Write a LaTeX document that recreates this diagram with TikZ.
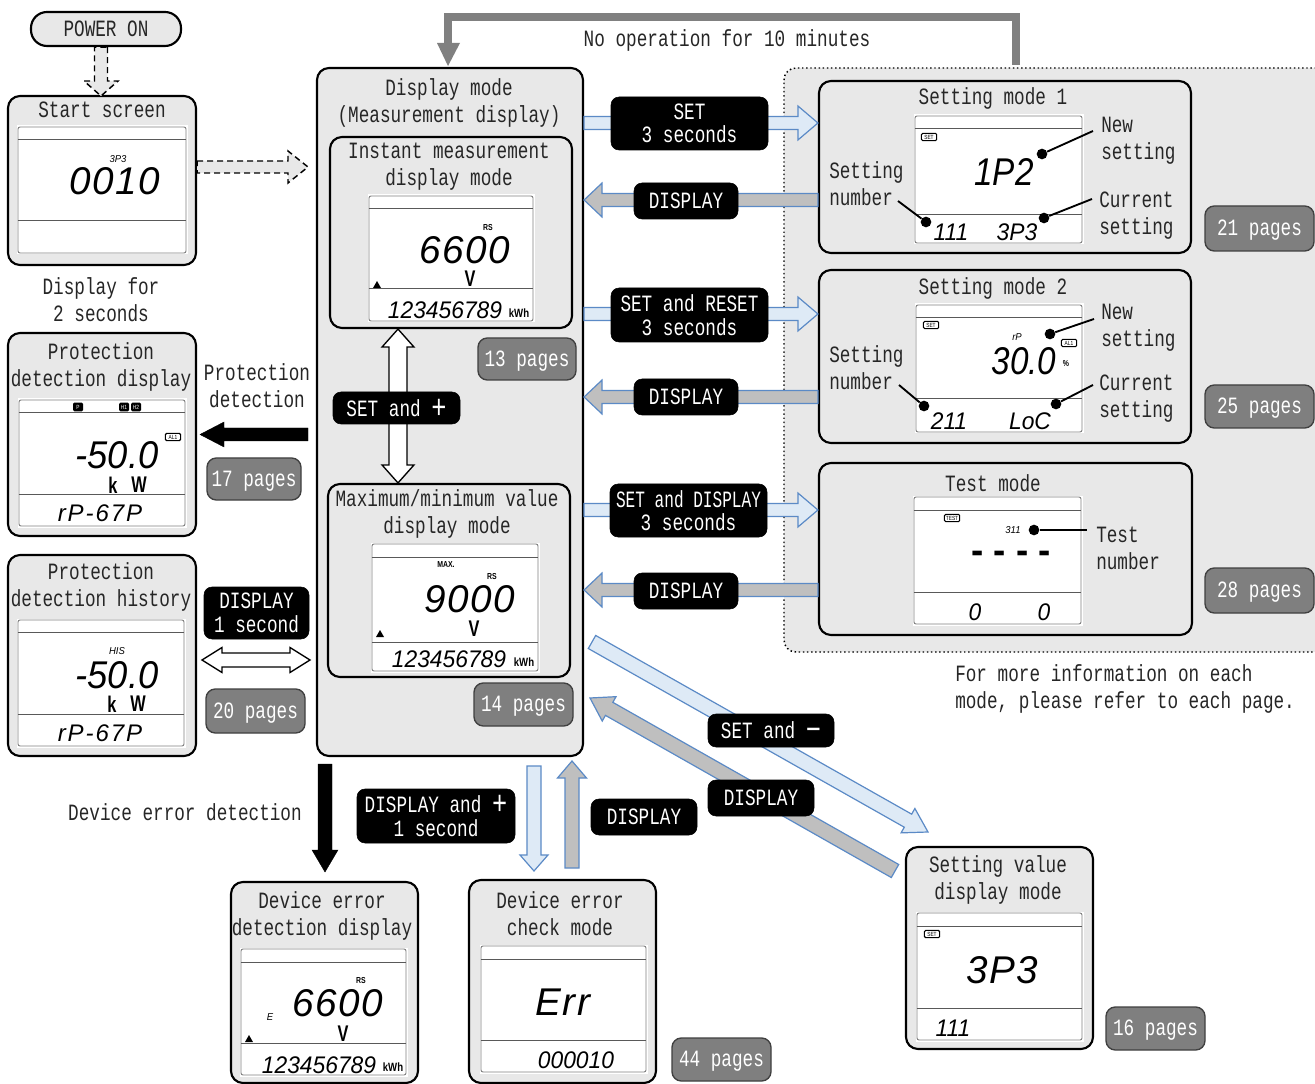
\documentclass[tikz,border=0pt]{standalone}
\usepackage{fontspec}
\usetikzlibrary{calc,fit}
\newfontfamily\mainf[FakeStretch=0.758]{Liberation Mono}
\newfontfamily\tightf[FakeStretch=0.69]{Liberation Mono}
\newfontfamily\lcdbigf[LetterSpace=4]{Liberation Sans}
\newfontfamily\lcdnarf[FakeStretch=0.86]{Liberation Sans}
\newfontfamily\lcdmidf[FakeStretch=0.94]{Liberation Sans}
\newfontfamily\lcdsmallf[FakeStretch=0.95]{Liberation Sans}
\newfontfamily\lcdwidef[LetterSpace=8]{Liberation Sans}
\newfontfamily\narrowf[FakeStretch=0.8]{Liberation Sans}
\newfontfamily\unitff[FakeStretch=0.72]{Liberation Sans}
\newcommand{\lcdB}{\lcdbigf\itshape\fontsize{29}{30}\selectfont}
\newcommand{\lcdN}{\lcdnarf\itshape\fontsize{29}{30}\selectfont}
\newcommand{\lcdM}{\lcdmidf\itshape\fontsize{29}{30}\selectfont}
\newcommand{\lcdS}{\lcdsmallf\itshape\fontsize{18}{20}\selectfont}
\newcommand{\lcdW}{\lcdwidef\itshape\fontsize{18}{20}\selectfont}
\newcommand{\lcdT}{\lcdsmallf\itshape\fontsize{7.5}{9}\selectfont}
\newcommand{\bigsign}[1]{\smash{\raisebox{-1.5pt}{\fontsize{25}{18}\selectfont #1}}}
\definecolor{panel}{HTML}{E8E8E8}
\definecolor{pagegray}{HTML}{7F7F7F}
\definecolor{blueedge}{HTML}{5B8AC6}
\definecolor{bluefill}{HTML}{DEEAF6}
\definecolor{grayfill}{HTML}{BFBFBF}
\definecolor{loopgray}{HTML}{808080}
\tikzset{
  base/.style={font=\mainf\fontsize{17.5}{20.25}\selectfont,text=black!85,inner sep=0pt,align=center},
  lab/.style={base,yshift=-1pt},
  labl/.style={base,align=left,anchor=west,yshift=-1pt},
  pan/.style={draw=black,fill=panel,line width=1.6pt,rounded corners=9pt,inner sep=0pt},
  pill/.style={draw=black,fill=panel,line width=1.6pt,rounded corners=12pt,inner sep=0pt},
  lcdbox/.style={draw=black!50,fill=white,line width=.7pt,rounded corners=1.5pt,inner sep=0pt},
  lcdrule/.style={draw=black!65,line width=.75pt},
  keybox/.style={fill=black,draw=black,rounded corners=6pt,inner sep=0pt},
  keytext/.style={base,text=white,font=\mainf\fontsize{17.5}{17.6}\selectfont},
  pagebox/.style={fill=pagegray,draw=black!75,line width=1pt,rounded corners=7pt,inner sep=0pt},
  pagetext/.style={base,text=white,yshift=-1.5pt},
  blueA/.style={draw=blueedge,fill=bluefill,line width=.9pt,miter limit=10},
  grayA/.style={draw=blueedge,fill=grayfill,line width=.9pt,miter limit=10},
  dashA/.style={draw=black,fill=panel,line width=1.1pt,dashed,dash pattern=on 4.5pt off 3pt},
  whiteA/.style={draw=black,fill=white,line width=1pt},
  blackA/.style={draw=black,fill=black,line width=.3pt},
  dotn/.style={circle,fill=black,inner sep=0pt,minimum size=8pt},
  leader/.style={draw=black,line width=1.4pt},
  lb/.style={inner sep=0pt,text=black},
  lcdB/.style={lb,font=\lcdB},
  lcdN/.style={lb,font=\lcdN},
  lcdM/.style={lb,font=\lcdM},
  lcdS/.style={lb,font=\lcdS},
  lcdW/.style={lb,font=\lcdW},
  lcdT/.style={lb,font=\lcdT},
  unitf/.style={lb,font=\unitff\bfseries\fontsize{17}{17}\selectfont},
  smallb/.style={lb,font=\narrowf\bfseries\fontsize{6.5}{7}\selectfont},
  kwhf/.style={lb,font=\narrowf\bfseries\fontsize{9}{10}\selectfont},
  iconw/.style={draw=black,fill=white,line width=.8pt,rounded corners=1pt,inner sep=.8pt,text=black,font=\narrowf\fontsize{4.5}{5}\selectfont,minimum width=11.5pt,minimum height=5.5pt},
  iconb/.style={fill=black,rounded corners=1pt,inner sep=.8pt,text=white,font=\narrowf\fontsize{4.5}{5}\selectfont,minimum width=7.5pt,minimum height=6.5pt},
  tri/.style={fill=black}
}
% block arrow from #1 to #2: style #3, half shaft #4 px, half head #5 px, head length #6 px
\newcommand{\blockarrow}[6]{%
  \coordinate (hb) at ($(#2)!#6*0.75pt!(#1)$);
  \draw[#3] ($(#1)!#4*0.75pt!90:(#2)$) -- ($(hb)!#4*0.75pt!90:(#2)$) -- ($(hb)!#5*0.75pt!90:(#2)$) -- (#2)
    -- ($(hb)!#5*0.75pt!-90:(#2)$) -- ($(hb)!#4*0.75pt!-90:(#2)$) -- ($(#1)!#4*0.75pt!-90:(#2)$) -- cycle;}
\newcommand{\dblarrow}[6]{%
  \coordinate (hb) at ($(#2)!#6*0.75pt!(#1)$);
  \coordinate (ha) at ($(#1)!#6*0.75pt!(#2)$);
  \draw[#3] (#1) -- ($(ha)!#5*0.75pt!-90:(#2)$) -- ($(ha)!#4*0.75pt!-90:(#2)$) -- ($(hb)!#4*0.75pt!90:(#1)$) -- ($(hb)!#5*0.75pt!90:(#1)$) -- (#2)
    -- ($(hb)!#5*0.75pt!-90:(#1)$) -- ($(hb)!#4*0.75pt!-90:(#1)$) -- ($(ha)!#4*0.75pt!90:(#2)$) -- ($(ha)!#5*0.75pt!90:(#2)$) -- cycle;}
% lcd: name, x1,y1,x2,y2, rule y1, rule y2
\newcommand{\lcd}[7]{%
  \fill[white] (#2-1.5,#3-1.5) rectangle (#4+1.5,#5+1.5);
  \node[lcdbox,fit={(#2,#3)(#4,#5)}] (#1) {};
  \draw[lcdrule] (#1.west |- 0,#6) -- (#1.east |- 0,#6);
  \draw[lcdrule] (#1.west |- 0,#7) -- (#1.east |- 0,#7);}
\newcommand{\keyn}[6]{\node[keybox,fit={(#2,#3)(#4,#5)}] (#1) {}; \node[keytext] (#1t) at (#1.center) {#6};}
\newcommand{\pagen}[6]{\node[pagebox,fit={(#2,#3)(#4,#5)}] (#1) {}; \node[pagetext] (#1t) at (#1.center) {#6};}
\begin{document}
\begin{tikzpicture}[x=0.75pt,y=-0.75pt]
\useasboundingbox (0,0) rectangle (1315,1084);
\fill[white] (0,0) rectangle (1315,1084);

% dotted settings background
\draw[fill=panel,draw=black,line width=1.1pt,dotted,rounded corners=9pt] (1316,68) -- (784,68) -- (784,652) -- (1316,652);

% power on / start
\node[pill,fit={(31,12)(181,46)}] (pwr) {};
\node[base] (pwrt) at (pwr.center) {POWER ON};
\node[pan,fit={(8,96)(196,265)}] (start) {};
\node[lab] (startt) at (102,108.5) {Start screen};
\lcd{l0}{18}{127}{186}{253}{140}{221}
\node[lcdB] (l0a) at (115,181) {0010};
\node[lcdT] (l0b) at (118,159) {3P3};
\node[lab] (dispfor) at (101,298.5) {Display for\\2 seconds};
\coordinate (pw1) at (pwr.south -| 101,0);
\coordinate (pw2) at (101,96);
\blockarrow{pw1}{pw2}{dashA}{6.5}{17}{15}
\coordinate (st1) at (start.east |- 0,167);
\coordinate (st2) at (308,167);
\blockarrow{st1}{st2}{dashA}{6}{16}{20}

% display mode panel
\node[pan,fit={(317,68)(583,756)}] (disp) {};
\node[lab] (dispt) at (449,101.5) {Display mode\\(Measurement display)};
\node[pan,fit={(330,137)(572,328)}] (inst) {};
\node[lab] (instt) at (449,165.5) {Instant measurement\\display mode};
\lcd{l1}{369}{196}{533}{321}{209}{289}
\node[lcdB] (l1a) at (465,250) {6600};
\node[smallb] (l1b) at (488,228) {RS};
\node[unitf] (l1c) at (470,279) {V};
\fill[tri] (373,288) -- (381,288) -- (377,281) -- cycle;
\node[lcdS] (l1d) at (445,310) {123456789};
\node[kwhf] (l1e) at (519,313) {kWh};

\node[pan,fit={(328,484)(570,677)}] (maxb) {};
\node[lab] (maxt) at (447,513) {Maximum/minimum value\\display mode};
\lcd{l2}{372}{544}{538}{671}{557}{642}
\node[lcdB] (l2a) at (470,599) {9000};
\node[smallb] (l2b) at (492,577) {RS};
\node[smallb] (l2m) at (446,565) {MAX.};
\node[unitf] (l2c) at (474,629) {V};
\fill[tri] (376,637) -- (384,637) -- (380,630) -- cycle;
\node[lcdS] (l2d) at (449,659) {123456789};
\node[kwhf] (l2e) at (524,662) {kWh};

\coordinate (dbl1) at (398,0 |- inst.south);
\coordinate (dbl2) at (398,0 |- maxb.north);
\dblarrow{dbl1}{dbl2}{whiteA}{9}{16}{18}
\keyn{k1}{333}{392}{460}{424}{SET and \bigsign{+}}
\pagen{p13}{478}{338}{576}{380}{13 pages}
\pagen{p14}{474}{683}{573}{726}{14 pages}

% top loop
\draw[loopgray,line width=5.5pt,line join=miter] (1016,65) -- (1016,17) -- (448,17) -- (448,45);
\fill[loopgray] (437,43) -- (460,43) -- (448,66) -- cycle;
\node[lab] (noop) at (727,39) {No operation for 10 minutes};

% settings panels
\node[pan,fit={(819,81)(1191,253)}] (sm1) {};
\node[lab] (sm1t) at (993,97) {Setting mode 1};
\lcd{l3}{915}{116}{1082}{243}{129}{215}
\node[iconw] (i3) at (929,137) {SET};
\node[lcdN] (l3a) at (1004,172) {1P2};
\node[lcdS] (l3b) at (951,232) {111};
\node[lcdS] (l3c) at (1017,232) {3P3};
\node[labl] (sm1n) at (1101,139) {New\\setting};
\node[labl] (sm1c) at (1099,214) {Current\\setting};
\node[labl] (sm1s) at (829,182.5) {Setting\\number};
\node[dotn] (d31) at (1042,154) {};
\node[dotn] (d32) at (1044,218) {};
\node[dotn] (d33) at (926,222) {};
\coordinate (e31) at (1093,131); \coordinate (e32) at (1092,199); \coordinate (e33) at (898,201);
\draw[leader] (d31) -- (e31); \draw[leader] (d32) -- (e32); \draw[leader] (d33) -- (e33);
\pagen{p21}{1205}{206}{1314}{251}{21 pages}

\node[pan,fit={(819,270)(1191,443)}] (sm2) {};
\node[lab] (sm2t) at (993,287) {Setting mode 2};
\lcd{l4}{916}{305}{1082}{432}{318}{399}
\node[iconw] (i4) at (931,325) {SET};
\node[iconw] (i4b) at (1069,343) {AL1};
\node[lcdT] (l4r) at (1017,337) {rP};
\node[lcdN] (l4a) at (1024,361) {30.0};
\node[smallb] (l4p) at (1066,364) {\%};
\node[lcdS] (l4b) at (949,421) {211};
\node[lcdS] (l4c) at (1030,421) {LoC};
\node[labl] (sm2n) at (1101,326) {New\\setting};
\node[labl] (sm2c) at (1099,397.5) {Current\\setting};
\node[labl] (sm2s) at (829,366) {Setting\\number};
\node[dotn] (d41) at (1050,334) {};
\node[dotn] (d42) at (1056,404) {};
\node[dotn] (d43) at (924,406) {};
\coordinate (e41) at (1094,319); \coordinate (e42) at (1093,385); \coordinate (e43) at (899,385);
\draw[leader] (d41) -- (e41); \draw[leader] (d42) -- (e42); \draw[leader] (d43) -- (e43);
\pagen{p25}{1205}{385}{1314}{428}{25 pages}

\node[pan,fit={(819,463)(1192,635)}] (tm) {};
\node[lab] (tmt) at (993,482) {Test mode};
\lcd{l5}{914}{497}{1081}{624}{510}{592}
\node[iconw] (i5) at (952,518) {TEST};
\node[lcdT] (l5a) at (1013,530) {311};
\node[lb,font=\lcdsmallf\bfseries\fontsize{29}{30}\selectfont] (l5d) at (1011,557) {- - - -};
\node[lcdS] (l5b) at (975,612) {0};
\node[lcdS] (l5c) at (1044,612) {0};
\node[labl] (tmn) at (1096,547) {Test\\number};
\node[dotn] (d51) at (1034,530) {};
\coordinate (e51) at (1087,530);
\draw[leader] (d51) -- (e51);
\pagen{p28}{1205}{568}{1314}{613}{28 pages}

% arrows display <-> settings
\coordinate (a1a) at (disp.east |- 0,123); \coordinate (a1b) at (sm1.west |- 0,123);
\blockarrow{a1a}{a1b}{blueA}{6.5}{17}{20}
\coordinate (b1a) at (sm1.west |- 0,200); \coordinate (b1b) at (disp.east |- 0,200);
\blockarrow{b1a}{b1b}{grayA}{6.5}{17}{18}
\coordinate (a2a) at (disp.east |- 0,314); \coordinate (a2b) at (sm2.west |- 0,314);
\blockarrow{a2a}{a2b}{blueA}{6.5}{17}{20}
\coordinate (b2a) at (sm2.west |- 0,397); \coordinate (b2b) at (disp.east |- 0,397);
\blockarrow{b2a}{b2b}{grayA}{6.5}{17}{18}
\coordinate (a3a) at (disp.east |- 0,510); \coordinate (a3b) at (tm.west |- 0,510);
\blockarrow{a3a}{a3b}{blueA}{6.5}{17}{20}
\coordinate (b3a) at (tm.west |- 0,590); \coordinate (b3b) at (disp.east |- 0,590);
\blockarrow{b3a}{b3b}{grayA}{6.5}{17}{18}
\keyn{k2}{611}{97}{768}{150}{SET\\3 seconds}
\keyn{k3}{634}{183}{738}{219}{DISPLAY}
\keyn{k4}{611}{288}{768}{342}{SET and RESET\\3 seconds}
\keyn{k5}{634}{379}{738}{415}{DISPLAY}
\keyn{k6}{610}{484}{767}{537}{{\tightf SET and DISPLAY}\\3 seconds}
\keyn{k7}{634}{573}{738}{609}{DISPLAY}
\node[labl] (info) at (955,687.5) {For more information on each\\mode, please refer to each page.};

% protection panels
\node[pan,fit={(8,333)(196,536)}] (pd) {};
\node[lab] (pdt) at (101,365.5) {Protection\\detection display};
\lcd{l6}{19}{400}{185}{526}{413}{494}
\node[iconb] (i6a) at (78,407) {P};
\node[iconb] (i6b) at (124,407) {H1};
\node[iconb] (i6c) at (136,407) {H2};
\node[iconw] (i6d) at (173,437) {AL1};
\node[lcdM] (l6a) at (117,455) {-50.0};
\node[unitf] (l6b) at (113,485) {k};
\node[unitf] (l6c) at (139,485) {W};
\node[lcdW] (l6d) at (100,513) {rP-67P};

\node[pan,fit={(8,555)(196,756)}] (ph) {};
\node[lab] (pht) at (101,586) {Protection\\detection history};
\lcd{l7}{18}{620}{184}{746}{632}{714}
\node[lcdT] (l7t) at (117,651) {HIS};
\node[lcdM] (l7a) at (117,675) {-50.0};
\node[unitf] (l7b) at (112,704) {k};
\node[unitf] (l7c) at (138,704) {W};
\node[lcdW] (l7d) at (100,733) {rP-67P};

\coordinate (pa1) at (308,434.5); \coordinate (pa2) at (200,434.5);
\blockarrow{pa1}{pa2}{blackA}{6.5}{12.5}{24}
\node[lab] (prot) at (257,384.5) {Protection\\detection};
\pagen{p17}{207}{458}{301}{500}{17 pages}
\keyn{k8}{204}{587}{309}{639}{DISPLAY\\1 second}
\coordinate (da1) at (202,660); \coordinate (da2) at (310,660);
\dblarrow{da1}{da2}{whiteA}{7}{12.5}{20}
\pagen{p20}{206}{689}{305}{733}{20 pages}

% device error
\node[lab] (ded) at (185,811) {Device error detection};
\node[pan,fit={(231,882)(418,1083)}] (de) {};
\node[lab] (det) at (322,915) {Device error\\detection display};
\lcd{l8}{241}{949}{406}{1075}{962}{1043}
\node[lcdT] (l8e) at (270,1017) {E};
\node[smallb] (l8r) at (361,981) {RS};
\node[lcdB] (l8a) at (338,1003) {6600};
\node[unitf] (l8v) at (343,1034) {V};
\fill[tri] (245,1042) -- (253,1042) -- (249,1035) -- cycle;
\node[lcdS] (l8d) at (319,1065) {123456789};
\node[kwhf] (l8k) at (393,1067) {kWh};

\node[pan,fit={(469,880)(656,1083)}] (ce) {};
\node[lab] (cet) at (560,912) {Device error\\check mode};
\lcd{l9}{481}{946}{646}{1072}{959}{1040}
\node[lcdB] (l9a) at (563,1002) {Err};
\node[lcdS] (l9b) at (576,1060) {000010};
\pagen{p44}{672}{1038}{771}{1081}{44 pages}

\coordinate (ea1) at (325,764); \coordinate (ea2) at (325,872);
\blockarrow{ea1}{ea2}{blackA}{7}{13}{22}
\keyn{k9}{357}{789}{515}{843}{DISPLAY and \bigsign{+}\\1 second}
\coordinate (fa1) at (534,766); \coordinate (fa3) at (534,871);
\blockarrow{fa1}{fa3}{blueA}{7}{14}{16}
\coordinate (ga1) at (572,868); \coordinate (ga2) at (572,761);
\blockarrow{ga1}{ga2}{grayA}{7}{14.5}{17}
\keyn{k10}{591}{799}{697}{835}{DISPLAY}

% setting value
\node[pan,fit={(906,847)(1093,1049)}] (sv) {};
\node[lab] (svt) at (998,879) {Setting value\\display mode};
\lcd{l10}{917}{913}{1082}{1040}{926}{1008}
\node[iconw] (i10) at (932,934) {SET};
\node[lcdB] (l10a) at (1002,970) {3P3};
\node[lcdS] (l10b) at (953,1028) {111};
\pagen{p16}{1106}{1007}{1205}{1050}{16 pages}

\coordinate (ba1) at (592,642); \coordinate (ba2) at (928,832);
\blockarrow{ba1}{ba2}{blueA}{7.5}{14}{23}
\coordinate (ca1) at (895,871); \coordinate (ca2) at (590,698);
\blockarrow{ca1}{ca2}{grayA}{7.5}{14}{22}
\keyn{k11}{708}{714}{834}{747}{SET and \bigsign{−}}
\keyn{k12}{708}{780}{814}{816}{DISPLAY}
\end{tikzpicture}
\end{document}
